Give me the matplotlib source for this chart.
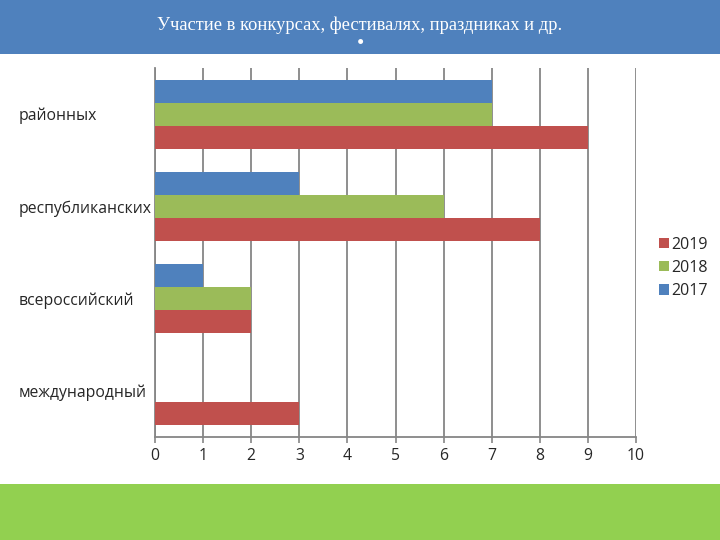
import numpy as np
import matplotlib.pyplot as plt
from matplotlib.patches import Rectangle

categories = ['международный', 'всероссийский', 'республиканских', 'районных']
years = ['2019', '2018', '2017']
values_2019 = [3, 2, 8, 9]
values_2018 = [0, 2, 6, 7]
values_2017 = [0, 1, 3, 7]
x_ticks = list(range(0, 11))

colors = {'2019': '#C0504D', '2018': '#9BBB59', '2017': '#4F81BD'}
series = {'2019': values_2019, '2018': values_2018, '2017': values_2017}
offsets = {'2019': -0.25, '2018': 0.0, '2017': 0.25}

fig = plt.figure(figsize=(7.2, 5.4), dpi=100)
fig.patch.set_facecolor('white')

# top banner and bottom green band
fig.patches.append(Rectangle((0, 0.9), 1, 0.1, transform=fig.transFigure,
                             facecolor='#4F81BD', edgecolor='none', zorder=0))
fig.patches.append(Rectangle((0, 0.0), 1, 56 / 540, transform=fig.transFigure,
                             facecolor='#92D050', edgecolor='none', zorder=0))
fig.text(0.5, 1 - 25 / 540, 'Участие в конкурсах, фестивалях, праздниках и др.',
         ha='center', va='center', color='white', fontsize=13.3,
         family='Liberation Serif')
fig.text(0.5, 1 - 45 / 540, '•', ha='center', va='center', color='white',
         fontsize=15, family='Liberation Serif')

ax = fig.add_axes([155 / 720, 1 - 437 / 540, 481 / 720, 369 / 540])
y = np.arange(len(categories))
for yr in years:
    ax.barh(y + offsets[yr], series[yr], height=0.25, color=colors[yr],
            label=yr, zorder=3)

ax.set_xlim(0, 10)
ax.set_ylim(-0.5, 3.5)
ax.set_xticks(x_ticks)
ax.set_yticks(y)
ax.set_yticklabels(categories, ha='left', family='Open Sans', fontsize=11.3,
                   color='#262626')
ax.tick_params(axis='y', length=0, pad=98)
ax.tick_params(axis='x', length=4, width=1.2, color='#868686', pad=4,
               labelsize=11.3, labelcolor='#262626')
for lab in ax.get_xticklabels():
    lab.set_family('Open Sans')
ax.grid(axis='x', color='#868686', linewidth=1.3, zorder=0)
ax.set_axisbelow(True)
for s in ['top', 'right']:
    ax.spines[s].set_visible(False)
for s in ['left', 'bottom']:
    ax.spines[s].set_color('#868686')
    ax.spines[s].set_linewidth(1.3)

leg = ax.legend(loc='center left', bbox_to_anchor=(645 / 720, 1 - 268 / 540),
                bbox_transform=fig.transFigure, frameon=False,
                handlelength=0.6, handleheight=0.6, handletextpad=0.15,
                labelspacing=0.45, prop={'family': 'Open Sans', 'size': 11.5})
for t in leg.get_texts():
    t.set_color('#262626')

fig.savefig('out.png', dpi=100)
